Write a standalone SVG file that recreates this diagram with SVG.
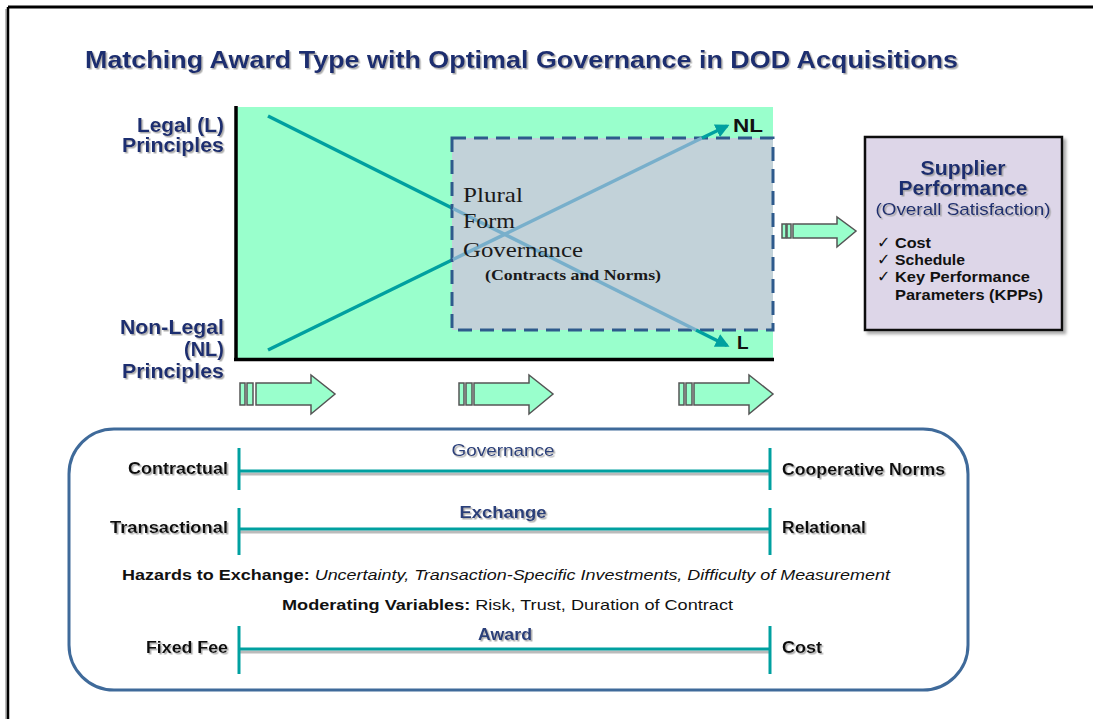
<svg xmlns="http://www.w3.org/2000/svg" width="1093" height="719" viewBox="0 0 1093 719">
<style>
.nav{font-family:"Liberation Sans",Arial,sans-serif;font-weight:bold;fill:#1E2F6F}
.blk{font-family:"Liberation Sans",Arial,sans-serif;font-weight:bold;fill:#111}
.ser{font-family:"Liberation Serif","Times New Roman",serif;fill:#1a1a1a}
.chk{font-family:"DejaVu Sans",sans-serif;font-size:16px;font-weight:normal;fill:#111}
.bar{fill:#99FFCC;stroke:#555;stroke-width:1.5}
.big{fill:#99FFCC;stroke:#555;stroke-width:1.5;stroke-linejoin:miter}
.scale{stroke:#00A0A0;stroke-width:3;fill:none}
.sh{stroke:#BBBBBB;stroke-width:3;fill:none}
.teal{stroke:#00A0A0;stroke-width:3.5;fill:none}
.lite{stroke:#78AFCB;stroke-width:3.5;fill:none}
</style>
<defs>
<filter id="ds" x="-10%" y="-30%" width="130%" height="180%">
<feDropShadow dx="1.5" dy="1.5" stdDeviation="0.6" flood-color="#999" flood-opacity="0.8"/>
</filter>
<filter id="bs" x="-10%" y="-10%" width="120%" height="120%">
<feDropShadow dx="3" dy="3" stdDeviation="1.5" flood-color="#888" flood-opacity="0.7"/>
</filter>
<marker id="ah" viewBox="0 0 10 10" refX="8" refY="5" markerWidth="4" markerHeight="4" orient="auto" markerUnits="strokeWidth">
<path d="M0,0 L10,5 L0,10 z" fill="#00A0A0"/>
</marker>
</defs>
<rect width="1093" height="719" fill="#fff"/>
<g id="frame">
<line x1="6" y1="9" x2="6" y2="719" stroke="#bbb" stroke-width="2"/>
<line x1="8" y1="7" x2="1093" y2="7" stroke="#000" stroke-width="3"/>
<line x1="8" y1="7" x2="8" y2="719" stroke="#000" stroke-width="2.5"/>
</g>
<g id="title">
<text class="nav" x="85" y="68" font-size="23" textLength="873" lengthAdjust="spacingAndGlyphs" filter="url(#ds)">Matching Award Type with Optimal Governance in DOD Acquisitions</text>
</g>
<g id="chart">
<rect x="236" y="107" width="537" height="252" fill="#99FFCC"/>
<line x1="236" y1="106" x2="236" y2="361" stroke="#000" stroke-width="3.5"/>
<line x1="234" y1="359.5" x2="774" y2="359.5" stroke="#000" stroke-width="3.5"/>
</g>
<g id="connectors">
<line class="teal" x1="268" y1="116" x2="452" y2="208"/>
<line class="teal" x1="268" y1="350" x2="452" y2="260"/>
</g>
<g id="plural-form">
<rect x="452" y="138" width="321" height="192" fill="#C2D2D9" stroke="#2E5A8C" stroke-width="3" stroke-dasharray="14,8"/>
<line class="lite" x1="453" y1="208.5" x2="696" y2="330"/>
<line class="lite" x1="453" y1="259.5" x2="702" y2="138"/>
<text class="ser" x="463" y="202" font-size="22" textLength="60" lengthAdjust="spacingAndGlyphs">Plural</text>
<text class="ser" x="463" y="228" font-size="22" textLength="52" lengthAdjust="spacingAndGlyphs">Form</text>
<text class="ser" x="463" y="257" font-size="22" textLength="120" lengthAdjust="spacingAndGlyphs">Governance</text>
<text class="ser" x="485" y="280" font-size="15" font-weight="bold" textLength="176" lengthAdjust="spacingAndGlyphs">(Contracts and Norms)</text>
</g>
<g id="arrowheads">
<line class="teal" x1="696" y1="330" x2="727" y2="345.5" marker-end="url(#ah)"/>
<line class="teal" x1="702" y1="138" x2="727" y2="126" marker-end="url(#ah)"/>
</g>
<g id="axis-labels">
<text class="nav" x="224" y="132" font-size="20" text-anchor="end" textLength="87" lengthAdjust="spacingAndGlyphs" filter="url(#ds)">Legal (L)</text>
<text class="nav" x="224" y="152" font-size="20" text-anchor="end" textLength="102" lengthAdjust="spacingAndGlyphs" filter="url(#ds)">Principles</text>
<text class="nav" x="224" y="334" font-size="20" text-anchor="end" textLength="104" lengthAdjust="spacingAndGlyphs" filter="url(#ds)">Non-Legal</text>
<text class="nav" x="224" y="356" font-size="20" text-anchor="end" filter="url(#ds)">(NL)</text>
<text class="nav" x="224" y="378" font-size="20" text-anchor="end" textLength="102" lengthAdjust="spacingAndGlyphs" filter="url(#ds)">Principles</text>
<text class="blk" x="733" y="132" font-size="19" fill="#000" textLength="30" lengthAdjust="spacingAndGlyphs">NL</text>
<text class="blk" x="737" y="349" font-size="19" fill="#000">L</text>
</g>
<g id="flow-arrows">
<g id="arrow1">
<rect class="bar" x="240" y="383" width="5" height="22"/>
<rect class="bar" x="247" y="383" width="6" height="22"/>
<path class="big" d="M256,383 H311 V375 L335,394 L311,414 V405 H256 Z"/>
</g>
<g id="arrow2">
<rect class="bar" x="459" y="383" width="5" height="22"/>
<rect class="bar" x="466" y="383" width="6" height="22"/>
<path class="big" d="M474,383 H529 V375 L553,394 L529,414 V405 H474 Z"/>
</g>
<g id="arrow3">
<rect class="bar" x="679" y="383" width="5" height="22"/>
<rect class="bar" x="686" y="383" width="6" height="22"/>
<path class="big" d="M694,383 H749 V375 L773,394 L749,414 V405 H694 Z"/>
</g>
<g id="arrow4">
<rect class="bar" x="782" y="224" width="4" height="14" fill="#aaa"/>
<rect class="bar" x="787" y="224" width="4" height="14"/>
<path class="big" d="M793,224 H837 V217 L856,231 L837,247 V238 H793 Z"/>
</g>
</g>
<g id="supplier-performance">
<rect x="865" y="137" width="197" height="193" fill="#DDD6E8" stroke="#111" stroke-width="2.5" filter="url(#bs)"/>
<text class="nav" x="963" y="175" font-size="20" text-anchor="middle" textLength="85" lengthAdjust="spacingAndGlyphs" filter="url(#ds)">Supplier</text>
<text class="nav" x="963" y="195" font-size="20" text-anchor="middle" textLength="129" lengthAdjust="spacingAndGlyphs" filter="url(#ds)">Performance</text>
<text class="nav" x="963" y="215" font-size="17" text-anchor="middle" textLength="175" lengthAdjust="spacingAndGlyphs" filter="url(#ds)" style="font-weight:normal">(Overall Satisfaction)</text>
<g font-family="'Liberation Sans',Arial,sans-serif" font-size="15" fill="#111" font-weight="bold">
<text class="chk" x="877" y="248">✓</text>
<text x="895" y="248" textLength="36" lengthAdjust="spacingAndGlyphs">Cost</text>
<text class="chk" x="877" y="265">✓</text>
<text x="895" y="265" textLength="70" lengthAdjust="spacingAndGlyphs">Schedule</text>
<text class="chk" x="877" y="282">✓</text>
<text x="895" y="282" textLength="135" lengthAdjust="spacingAndGlyphs">Key Performance</text>
<text x="895" y="300" textLength="148" lengthAdjust="spacingAndGlyphs">Parameters (KPPs)</text>
</g>
</g>
<g id="continuum-panel">
<rect x="69" y="429" width="899" height="261" rx="45" ry="45" fill="#fff" stroke="#3F6A9A" stroke-width="3"/>
<g id="scale-governance">
<line class="sh" x1="239" y1="474" x2="770" y2="474"/>
<line class="scale" x1="239" y1="471" x2="770" y2="471"/>
<line class="scale" x1="239" y1="448" x2="239" y2="490"/>
<line class="scale" x1="770" y1="448" x2="770" y2="490"/>
<text class="nav" x="503" y="456" font-size="16" text-anchor="middle" textLength="103" lengthAdjust="spacingAndGlyphs" style="font-weight:normal;fill:#2A3F7A" filter="url(#ds)">Governance</text>
<text class="blk" x="228" y="474" font-size="16" text-anchor="end" textLength="100" lengthAdjust="spacingAndGlyphs" filter="url(#ds)">Contractual</text>
<text class="blk" x="782" y="475" font-size="16" textLength="163" lengthAdjust="spacingAndGlyphs" filter="url(#ds)">Cooperative Norms</text>
</g>
<g id="scale-exchange">
<line class="sh" x1="239" y1="532" x2="770" y2="532"/>
<line class="scale" x1="239" y1="529" x2="770" y2="529"/>
<line class="scale" x1="239" y1="508" x2="239" y2="555"/>
<line class="scale" x1="770" y1="508" x2="770" y2="555"/>
<text class="nav" x="503" y="518" font-size="17" text-anchor="middle" textLength="87" lengthAdjust="spacingAndGlyphs" style="fill:#2A3F7A" filter="url(#ds)">Exchange</text>
<text class="blk" x="228" y="533" font-size="16" text-anchor="end" textLength="118" lengthAdjust="spacingAndGlyphs" filter="url(#ds)">Transactional</text>
<text class="blk" x="782" y="533" font-size="16" textLength="84" lengthAdjust="spacingAndGlyphs" filter="url(#ds)">Relational</text>
</g>
<text class="blk" x="122" y="580" font-size="15" textLength="768" lengthAdjust="spacingAndGlyphs">Hazards to Exchange: <tspan font-style="italic" font-weight="normal">Uncertainty, Transaction-Specific Investments, Difficulty of Measurement</tspan></text>
<text class="blk" x="282" y="610" font-size="15" textLength="451" lengthAdjust="spacingAndGlyphs">Moderating Variables: <tspan font-weight="normal"> Risk, Trust, Duration of Contract</tspan></text>
<g id="scale-award">
<line class="sh" x1="239" y1="652" x2="770" y2="652"/>
<line class="scale" x1="239" y1="649" x2="770" y2="649"/>
<line class="scale" x1="239" y1="626" x2="239" y2="674"/>
<line class="scale" x1="770" y1="626" x2="770" y2="674"/>
<text class="nav" x="505" y="640" font-size="17" text-anchor="middle" textLength="54" lengthAdjust="spacingAndGlyphs" style="fill:#2A3F7A" filter="url(#ds)">Award</text>
<text class="blk" x="228" y="653" font-size="16" text-anchor="end" textLength="82" lengthAdjust="spacingAndGlyphs" filter="url(#ds)">Fixed Fee</text>
<text class="blk" x="782" y="653" font-size="16" textLength="40" lengthAdjust="spacingAndGlyphs" filter="url(#ds)">Cost</text>
</g>
</g>
</svg>
